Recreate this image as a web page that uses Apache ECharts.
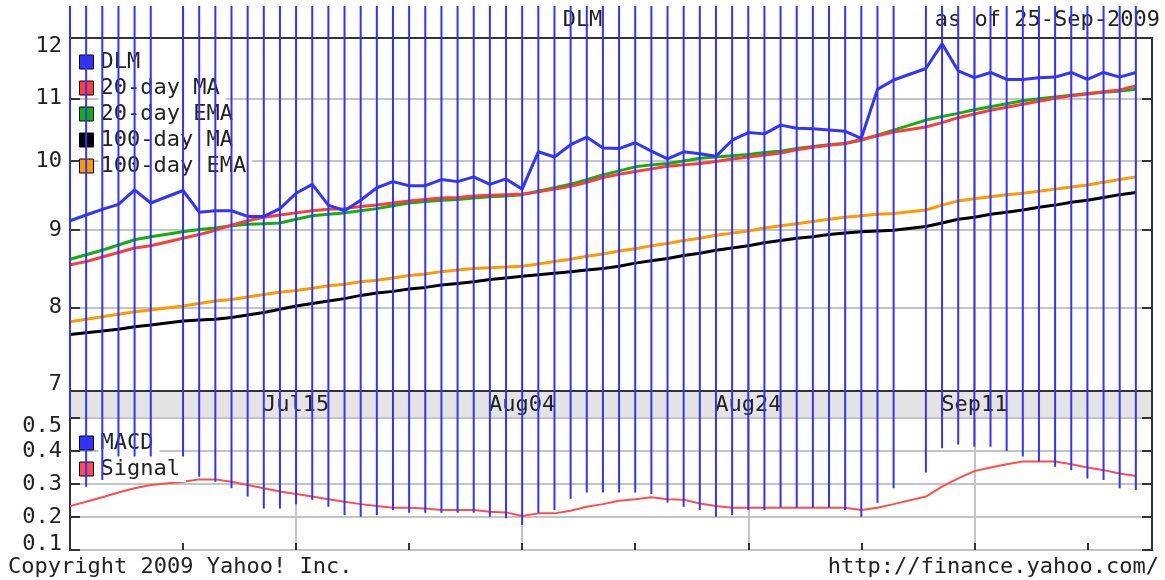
<!DOCTYPE html>
<html>
<head>
<meta charset="utf-8">
<style>
  html, body { margin: 0; padding: 0; background: #fff; }
  #chart { width: 1165px; height: 580px; }
</style>
<script src="https://cdn.jsdelivr.net/npm/echarts@6/dist/echarts.min.js"></script>
</head>
<body>
<div id="chart"></div>
<script>
// weekday slots, Jun 25 .. Sep 28 2009 (Jul03 and Sep07 are market holidays)
var dates = [
  'Jun25', 'Jun26', 'Jun29', 'Jun30', 'Jul01', 'Jul02', 'Jul03',
  'Jul06', 'Jul07', 'Jul08', 'Jul09', 'Jul10', 'Jul13', 'Jul14', 'Jul15', 'Jul16', 'Jul17',
  'Jul20', 'Jul21', 'Jul22', 'Jul23', 'Jul24', 'Jul27', 'Jul28', 'Jul29', 'Jul30', 'Jul31',
  'Aug03', 'Aug04', 'Aug05', 'Aug06', 'Aug07', 'Aug10', 'Aug11', 'Aug12', 'Aug13', 'Aug14',
  'Aug17', 'Aug18', 'Aug19', 'Aug20', 'Aug21', 'Aug24', 'Aug25', 'Aug26', 'Aug27', 'Aug28',
  'Aug31', 'Sep01', 'Sep02', 'Sep03', 'Sep04', 'Sep07', 'Sep08', 'Sep09', 'Sep10', 'Sep11',
  'Sep14', 'Sep15', 'Sep16', 'Sep17', 'Sep18', 'Sep21', 'Sep22', 'Sep23', 'Sep24', 'Sep25',
  'Sep28'
];

var dlm = [
  9.13, 9.21, 9.29, 9.36, 9.57, 9.38, null,
  9.56, 9.25, 9.27, 9.27, 9.19, 9.19, 9.30, 9.52, 9.65, 9.35,
  9.27, 9.42, 9.60, 9.69, 9.63, 9.63, 9.72, 9.69, 9.76, 9.65,
  9.73, 9.58, 10.14, 10.06, 10.25, 10.37, 10.20, 10.19, 10.28, 10.15,
  10.03, 10.14, 10.11, 10.07, 10.32, 10.44, 10.42, 10.56, 10.51, 10.50,
  10.48, 10.46, 10.35, 11.15, 11.31, null, 11.51, 11.95, 11.47, 11.35,
  11.44, 11.32, 11.32, 11.35, 11.36, 11.44, 11.32, 11.44, 11.36, 11.44,
  null
];

var ma20 = [
  8.54, 8.58, 8.64, 8.70, 8.76, 8.79, null,
  8.89, 8.94, 9.00, 9.07, 9.13, 9.18, 9.21, 9.24, 9.27, 9.29,
  9.30, 9.33, 9.35, 9.38, 9.41, 9.43, 9.45, 9.46, 9.48, 9.49,
  9.50, 9.51, 9.54, 9.58, 9.62, 9.68, 9.75, 9.80, 9.84, 9.88,
  9.92, 9.94, 9.96, 9.99, 10.03, 10.06, 10.09, 10.12, 10.17, 10.21,
  10.24, 10.27, 10.33, 10.39, 10.45, null, 10.53, 10.60, 10.68, 10.74,
  10.80, 10.85, 10.90, 10.95, 11.00, 11.04, 11.07, 11.11, 11.14, 11.21,
  null
];

var ema20 = [
  8.61, 8.67, 8.73, 8.80, 8.87, 8.91, null,
  8.98, 9.01, 9.03, 9.06, 9.08, 9.09, 9.10, 9.15, 9.20, 9.22,
  9.24, 9.27, 9.30, 9.34, 9.38, 9.40, 9.42, 9.43, 9.45, 9.47,
  9.48, 9.50, 9.55, 9.60, 9.65, 9.72, 9.79, 9.85, 9.91, 9.94,
  9.96, 10.00, 10.04, 10.06, 10.08, 10.10, 10.13, 10.15, 10.19, 10.22,
  10.25, 10.27, 10.32, 10.40, 10.48, null, 10.64, 10.70, 10.75, 10.81,
  10.86, 10.91, 10.96, 10.99, 11.02, 11.05, 11.08, 11.10, 11.12, 11.15,
  null
];

var ma100 = [
  7.68, 7.70, 7.72, 7.74, 7.77, 7.79, null,
  7.84, 7.85, 7.86, 7.88, 7.91, 7.94, 7.98, 8.02, 8.05, 8.08,
  8.11, 8.15, 8.18, 8.20, 8.23, 8.25, 8.28, 8.30, 8.32, 8.35,
  8.37, 8.39, 8.41, 8.43, 8.45, 8.47, 8.49, 8.52, 8.56, 8.59,
  8.62, 8.66, 8.69, 8.73, 8.76, 8.79, 8.83, 8.86, 8.89, 8.91,
  8.94, 8.96, 8.98, 8.99, 9.00, null, 9.05, 9.10, 9.15, 9.18,
  9.22, 9.25, 9.28, 9.32, 9.35, 9.39, 9.42, 9.46, 9.50, 9.53,
  null
];

var ema100 = [
  7.83, 7.86, 7.89, 7.92, 7.95, 7.97, null,
  8.02, 8.05, 8.08, 8.10, 8.13, 8.16, 8.19, 8.21, 8.24, 8.27,
  8.29, 8.32, 8.34, 8.37, 8.40, 8.42, 8.45, 8.47, 8.49, 8.50,
  8.51, 8.52, 8.55, 8.58, 8.61, 8.65, 8.68, 8.72, 8.75, 8.79,
  8.82, 8.86, 8.89, 8.93, 8.96, 8.99, 9.03, 9.06, 9.09, 9.12,
  9.15, 9.18, 9.20, 9.22, 9.23, null, 9.28, 9.35, 9.41, 9.44,
  9.47, 9.50, 9.52, 9.55, 9.58, 9.61, 9.64, 9.68, 9.72, 9.76,
  null
];

var macd = [
  0.500, 0.292, 0.312, 0.383, 0.383, 0.383, null,
  0.383, 0.322, 0.307, 0.287, 0.262, 0.226, 0.226, 0.239, 0.252, 0.231,
  0.206, 0.201, 0.206, 0.221, 0.213, 0.213, 0.213, 0.213, 0.213, 0.201,
  0.196, 0.176, 0.213, 0.221, 0.255, 0.274, 0.274, 0.274, 0.274, 0.270,
  0.243, 0.231, 0.221, 0.201, 0.206, 0.221, 0.221, 0.229, 0.229, 0.229,
  0.229, 0.221, 0.201, 0.243, 0.287, null, 0.335, 0.408, 0.420, 0.413,
  0.413, 0.400, 0.383, 0.368, 0.352, 0.342, 0.317, 0.312, 0.287, 0.282,
  null
];

var signal = [
  0.233, 0.246, 0.260, 0.274, 0.287, 0.297, null,
  0.307, 0.314, 0.314, 0.307, 0.297, 0.287, 0.277, 0.270, 0.262, 0.254,
  0.246, 0.239, 0.233, 0.228, 0.228, 0.226, 0.221, 0.221, 0.221, 0.216,
  0.214, 0.203, 0.211, 0.211, 0.219, 0.231, 0.239, 0.249, 0.254, 0.260,
  0.254, 0.252, 0.241, 0.233, 0.228, 0.228, 0.228, 0.228, 0.228, 0.228,
  0.228, 0.228, 0.221, 0.228, 0.239, null, 0.262, 0.292, 0.317, 0.339,
  0.350, 0.360, 0.368, 0.368, 0.368, 0.360, 0.350, 0.342, 0.332, 0.324,
  null
];

var priceLabels = [7.114, 8, 9, 10, 11, 11.904];
var priceTicks = [8, 9, 10, 11];
var macdLabels = [0.118, 0.2, 0.3, 0.4, 0.474];

var FONT = "'DejaVu Sans Mono', monospace";
var TEXT = '#222';
var GRIDLINE = '#c4c4c4';
var BORDER = '#333';
var BLUE = '#3333ff';
var LINE_TOP = 6; // the MACD strokes run up to the top of the picture

var chart = echarts.init(document.getElementById('chart'));

function majorTick(index) {
  return index > 0 && index % 14 === 0;
}

var textStyle = { fontFamily: FONT, fontSize: 22, fontWeight: 'normal', color: TEXT };

var macdPoints = [];
macd.forEach(function (v, i) {
  if (v != null) macdPoints.push([i, v]);
});

function priceLine(name, data, color) {
  return {
    name: name,
    type: 'line',
    xAxisIndex: 0,
    yAxisIndex: 0,
    data: data,
    symbol: 'none',
    connectNulls: true,
    color: color,
    lineStyle: { color: color, width: 3 },
    animation: false
  };
}

var option = {
  backgroundColor: '#fff',
  animation: false,
  title: [
    { text: 'DLM', left: 'center', top: 9, padding: 0, textStyle: textStyle },
    { text: 'as of 25-Sep-2009', right: 5, top: 9, padding: 0, textStyle: textStyle },
    { text: 'Copyright 2009 Yahoo! Inc.', left: 8, top: 556, padding: 0, textStyle: textStyle },
    { text: 'http://finance.yahoo.com/', right: 6, top: 556, padding: 0, textStyle: textStyle }
  ],
  legend: [
    {
      data: ['DLM', '20-day MA', '20-day EMA', '100-day MA', '100-day EMA'],
      orient: 'vertical',
      left: 79,
      top: 49,
      padding: 0,
      itemGap: 0,
      itemWidth: 14,
      itemHeight: 14,
      icon: 'rect',
      itemStyle: { borderColor: '#000', borderWidth: 1 },
      textStyle: {
        fontFamily: FONT, fontSize: 22, color: TEXT, lineHeight: 22,
        backgroundColor: '#fff', padding: [2, 6, 2, 2]
      },
      selectedMode: false
    },
    {
      data: ['MACD', 'Signal'],
      orient: 'vertical',
      left: 79,
      top: 430,
      padding: 0,
      itemGap: 0,
      itemWidth: 14,
      itemHeight: 14,
      icon: 'rect',
      itemStyle: { borderColor: '#000', borderWidth: 1 },
      textStyle: {
        fontFamily: FONT, fontSize: 22, color: TEXT, lineHeight: 22,
        backgroundColor: '#fff', padding: [2, 6, 2, 2]
      },
      selectedMode: false
    }
  ],
  grid: [
    { left: 70, top: 38, width: 1082, height: 353, show: true, backgroundColor: '#fff', borderColor: BORDER, borderWidth: 2 },
    { left: 70, top: 391, width: 1082, height: 27, show: true, backgroundColor: '#e4e4e4', borderColor: BORDER, borderWidth: 2 },
    { left: 70, top: 418, width: 1082, height: 132, show: true, backgroundColor: '#fff', borderColor: BORDER, borderWidth: 2 }
  ],
  xAxis: [
    {
      gridIndex: 0, type: 'category', data: dates, boundaryGap: false,
      axisLine: { show: false }, axisTick: { show: false }, axisLabel: { show: false },
      splitLine: { show: true, interval: majorTick, lineStyle: { color: GRIDLINE, width: 2 } }
    },
    {
      gridIndex: 1, type: 'category', data: dates, boundaryGap: false,
      axisLine: { show: false }, axisTick: { show: false },
      axisLabel: {
        inside: true, margin: 13, verticalAlign: 'middle', interval: majorTick,
        fontFamily: FONT, fontSize: 22, color: TEXT
      },
      splitLine: { show: false }
    },
    {
      gridIndex: 2, type: 'category', data: dates, boundaryGap: false,
      axisLine: { show: false },
      axisTick: { show: true, inside: true, length: 7, interval: 6, lineStyle: { color: BORDER, width: 2 } },
      axisLabel: { show: false },
      splitLine: { show: true, interval: majorTick, lineStyle: { color: GRIDLINE, width: 2 } }
    }
  ],
  yAxis: [
    {
      gridIndex: 0, type: 'log', logBase: 10, min: 7.047, max: 12.056, position: 'left',
      axisLine: { show: false },
      axisTick: { show: true, inside: true, length: 10, customValues: priceTicks, lineStyle: { color: BORDER, width: 2 } },
      axisLabel: {
        customValues: priceLabels, margin: 8,
        formatter: function (v) { return String(Math.round(v)); },
        fontFamily: FONT, fontSize: 22, color: TEXT
      },
      splitLine: { show: true, lineStyle: { color: GRIDLINE, width: 2 } }
    },
    {
      gridIndex: 0, type: 'log', logBase: 10, min: 7.047, max: 12.056, position: 'right',
      axisLine: { show: false },
      axisTick: { show: true, inside: true, length: 10, customValues: priceTicks, lineStyle: { color: BORDER, width: 2 } },
      axisLabel: { show: false },
      splitLine: { show: false }
    },
    { gridIndex: 1, type: 'value', show: false },
    {
      gridIndex: 2, type: 'value', min: 0.1, max: 0.5, interval: 0.1, position: 'left',
      axisLine: { show: false },
      axisTick: { show: true, inside: true, length: 10, lineStyle: { color: BORDER, width: 2 } },
      axisLabel: {
        customValues: macdLabels, margin: 8,
        formatter: function (v) { return v.toFixed(1); },
        fontFamily: FONT, fontSize: 22, color: TEXT
      },
      splitLine: { show: true, lineStyle: { color: GRIDLINE, width: 2 } }
    },
    {
      gridIndex: 2, type: 'value', min: 0.1, max: 0.5, interval: 0.1, position: 'right',
      axisLine: { show: false },
      axisTick: { show: true, inside: true, length: 10, lineStyle: { color: BORDER, width: 2 } },
      axisLabel: { show: false },
      splitLine: { show: false }
    }
  ],
  series: [
    priceLine('100-day MA', ma100, '#000000'),
    priceLine('100-day EMA', ema100, '#ff9900'),
    priceLine('20-day EMA', ema20, '#11b011'),
    priceLine('20-day MA', ma20, '#ff3c3c'),
    priceLine('DLM', dlm, BLUE),
    {
      name: 'Signal',
      type: 'line',
      xAxisIndex: 2,
      yAxisIndex: 3,
      data: signal,
      symbol: 'none',
      connectNulls: true,
      color: '#ff4d4d',
      lineStyle: { color: '#ff4d4d', width: 2 }
    },
    {
      name: 'MACD',
      type: 'custom',
      xAxisIndex: 2,
      yAxisIndex: 3,
      data: macdPoints,
      encode: { x: 0, y: 1 },
      clip: false,
      z: 10,
      itemStyle: { color: BLUE },
      renderItem: function (params, api) {
        var p = api.coord([api.value(0), api.value(1)]);
        return {
          type: 'line',
          shape: { x1: p[0], y1: LINE_TOP, x2: p[0], y2: p[1] },
          style: { stroke: BLUE, lineWidth: 2 }
        };
      }
    }
  ]
};

option && chart.setOption(option);
</script>
</body>
</html>
